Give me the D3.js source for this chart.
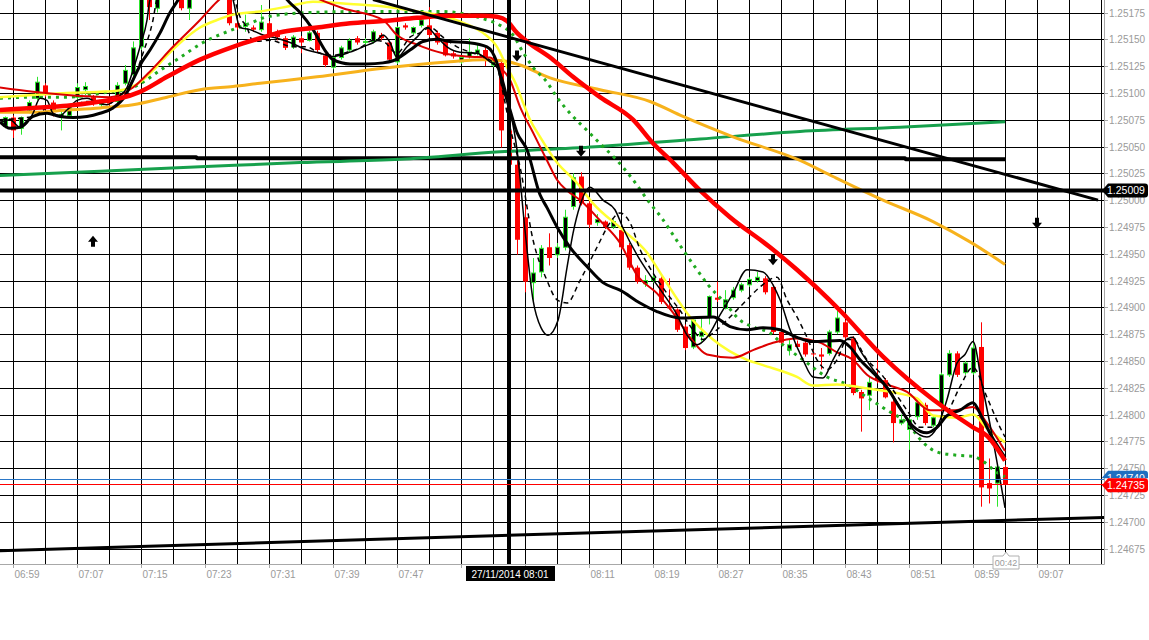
<!DOCTYPE html>
<html><head><meta charset="utf-8">
<script src="https://cdn.jsdelivr.net/npm/d3@7"></script>
<style>body{margin:0;background:#fff;}svg{display:block;}text{font-family:"Liberation Sans",Arial,sans-serif;}</style>
</head><body><svg id="c" width="1149" height="640"></svg>
<script>
// ---------- DATA ----------
// candle index 0 = 06:59, one candle per minute; first candle is 06:58 (index -1)
const firstIndex = -1;
// [open, high, low, close]
const candles = [
[1.25069,1.25078,1.25067,1.25077],[1.25077,1.25079,1.25058,1.25065],[1.25067,1.25078,1.25061,1.25077],[1.25084,1.25093,1.25081,1.25091],
[1.25095,1.25115,1.25093,1.25110],[1.25107,1.25109,1.25096,1.25098],[1.25091,1.25093,1.25078,1.25084],[1.25078,1.25084,1.25065,1.25080],
[1.25079,1.25089,1.25078,1.25087],[1.25096,1.25109,1.25093,1.25105],[1.25103,1.25110,1.25098,1.25106],[1.25096,1.25098,1.25088,1.25091],
[1.25089,1.25093,1.25087,1.25092],[1.25093,1.25095,1.25088,1.25090],[1.25092,1.25110,1.25087,1.25107],[1.25109,1.25126,1.25107,1.25121],
[1.25117,1.25148,1.25112,1.25142],[1.25143,1.25196,1.25140,1.25191],[1.25205,1.25210,1.25168,1.25180],[1.25179,1.25205,1.25175,1.25201],
[1.25201,1.25219,1.25196,1.25215],[1.25215,1.25233,1.25210,1.25229],[1.25224,1.25229,1.25177,1.25179],[1.25179,1.25210,1.25168,1.25205],
[1.25205,1.25229,1.25201,1.25224],[1.25224,1.25243,1.25219,1.25238],[1.25238,1.25247,1.25224,1.25229],[1.25229,1.25233,1.25210,1.25215],
[1.25215,1.25219,1.25163,1.25165],[1.25165,1.25167,1.25159,1.25161],[1.25162,1.25173,1.25157,1.25164],[1.25161,1.25163,1.25157,1.25159],
[1.25159,1.25182,1.25157,1.25166],[1.25165,1.25167,1.25152,1.25154],[1.25157,1.25159,1.25149,1.25152],[1.25151,1.25153,1.25140,1.25142],
[1.25143,1.25154,1.25141,1.25152],[1.25151,1.25153,1.25137,1.25147],[1.25149,1.25158,1.25148,1.25156],[1.25156,1.25158,1.25138,1.25140],
[1.25135,1.25137,1.25124,1.25126],[1.25124,1.25135,1.25122,1.25133],[1.25133,1.25144,1.25131,1.25142],[1.25140,1.25151,1.25138,1.25149],
[1.25151,1.25153,1.25145,1.25147],[1.25147,1.25151,1.25145,1.25148],[1.25148,1.25159,1.25146,1.25157],[1.25154,1.25156,1.25149,1.25151],
[1.25147,1.25148,1.25129,1.25131],[1.25129,1.25162,1.25127,1.25161],[1.25163,1.25165,1.25159,1.25161],[1.25156,1.25162,1.25154,1.25161],
[1.25163,1.25170,1.25161,1.25168],[1.25163,1.25180,1.25152,1.25154],[1.25156,1.25158,1.25145,1.25147],[1.25148,1.25149,1.25134,1.25135],
[1.25137,1.25139,1.25132,1.25134],[1.25129,1.25134,1.25127,1.25133],[1.25134,1.25151,1.25132,1.25138],[1.25137,1.25146,1.25135,1.25140],
[1.25140,1.25142,1.25125,1.25131],[1.25126,1.25131,1.25124,1.25129],[1.25128,1.25130,1.25049,1.25065],[1.25065,1.25070,1.25014,1.25033],
[1.25033,1.25037,1.24949,1.24963],[1.24984,1.24995,1.24914,1.24924],[1.24923,1.24946,1.24904,1.24932],[1.24933,1.24958,1.24928,1.24955],
[1.24956,1.24969,1.24939,1.24946],[1.24949,1.24960,1.24946,1.24956],[1.24956,1.24991,1.24953,1.24984],[1.24994,1.25025,1.24991,1.25021],
[1.25022,1.25026,1.24995,1.24997],[1.24997,1.25000,1.24974,1.24977],[1.24979,1.24987,1.24976,1.24982],[1.24980,1.24981,1.24973,1.24975],
[1.24975,1.24982,1.24973,1.24980],[1.24972,1.24974,1.24954,1.24956],[1.24958,1.24960,1.24935,1.24937],[1.24937,1.24939,1.24922,1.24924],
[1.24922,1.24930,1.24919,1.24925],[1.24925,1.24930,1.24923,1.24928],[1.24927,1.24929,1.24903,1.24905],[1.24901,1.24927,1.24898,1.24899],
[1.24898,1.24899,1.24877,1.24879],[1.24882,1.24884,1.24860,1.24862],[1.24863,1.24890,1.24861,1.24888],[1.24873,1.24890,1.24868,1.24877],
[1.24891,1.24911,1.24884,1.24910],[1.24909,1.24924,1.24905,1.24907],[1.24899,1.24916,1.24898,1.24907],[1.24909,1.24919,1.24907,1.24916],
[1.24916,1.24923,1.24914,1.24921],[1.24921,1.24928,1.24919,1.24926],[1.24925,1.24933,1.24923,1.24928],[1.24927,1.24929,1.24912,1.24914],
[1.24919,1.24921,1.24875,1.24877],[1.24877,1.24879,1.24865,1.24867],[1.24860,1.24870,1.24855,1.24865],[1.24866,1.24869,1.24861,1.24863],
[1.24867,1.24869,1.24854,1.24856],[1.24857,1.24860,1.24854,1.24856],[1.24856,1.24862,1.24842,1.24854],[1.24857,1.24879,1.24855,1.24877],
[1.24877,1.24899,1.24875,1.24890],[1.24886,1.24888,1.24870,1.24872],[1.24871,1.24873,1.24818,1.24820],[1.24821,1.24823,1.24784,1.24815],
[1.24818,1.24836,1.24804,1.24830],[1.24835,1.24851,1.24829,1.24832],[1.24832,1.24834,1.24815,1.24816],[1.24812,1.24814,1.24774,1.24792],
[1.24792,1.24800,1.24790,1.24795],[1.24786,1.24797,1.24767,1.24795],[1.24798,1.24814,1.24795,1.24811],[1.24809,1.24811,1.24790,1.24792],
[1.24790,1.24799,1.24788,1.24797],[1.24809,1.24839,1.24804,1.24837],[1.24837,1.24860,1.24835,1.24857],[1.24857,1.24859,1.24835,1.24837],
[1.24839,1.24850,1.24837,1.24848],[1.24839,1.24867,1.24837,1.24862],[1.24863,1.24886,1.24714,1.24732],[1.24736,1.24759,1.24717,1.24731],
[1.24736,1.24753,1.24714,1.24751],[1.24751,1.24753,1.24734,1.24735]
];

// indicator lines: [candle index, price]
const thickRed = [[-1.63,1.25084],[2.5,1.25086],[6.75,1.25088],[10.88,1.25092],[13.38,1.25095],[15.88,1.25101],[19.25,1.25115],[23.38,1.25131],[27.5,1.25143],[30.88,1.25151],[33.75,1.25157],[38,1.25161],[42.13,1.25165],[46.25,1.25167],[50.5,1.25170],[54.63,1.25172],[58.75,1.25172],[60.5,1.25171],[61.75,1.25167],[63,1.25156],[64.25,1.25148],[67.5,1.25131],[70,1.25115],[73.38,1.25096],[77.5,1.25075],[80,1.25053],[82.5,1.25035],[85.88,1.25009],[89.63,1.24984],[94.63,1.24956],[98,1.24935],[103.38,1.24897],[108.75,1.24854],[115,1.24814],[120,1.24788],[121.75,1.24780],[124,1.24757]];
const orangeMA = [[-1.63,1.25082],[2.5,1.25082],[6.75,1.25084],[10.88,1.25086],[15,1.25089],[19.25,1.25096],[23.38,1.25103],[27.5,1.25106],[30.88,1.25109],[38,1.25115],[46.25,1.25123],[54.63,1.25129],[58.75,1.25131],[61.25,1.25130],[63.38,1.25126],[67.13,1.25114],[73.38,1.25103],[79.63,1.25092],[83.75,1.25078],[90,1.25059],[98.38,1.25037],[102.5,1.25022],[108.75,1.25000],[115,1.24980],[119.63,1.24961],[124,1.24940]];
const greenLong = [[-1.63,1.25023],[10.88,1.25027],[23.38,1.25031],[35.88,1.25035],[48.38,1.25038],[60.88,1.25045],[73.38,1.25050],[85.88,1.25057],[98.38,1.25064],[110.88,1.25068],[124,1.25073]];
const blackFlat = [[-1.63,1.25040],[22.9,1.25040],[23,1.25039],[111.5,1.25039],[111.6,1.25038],[124,1.25038]];
const yellowMA = [[-1.63,1.25096],[2.5,1.25098],[6.75,1.25100],[10.88,1.25101],[13,1.25102],[14.63,1.25105],[15.88,1.25110],[17.5,1.25121],[19.25,1.25135],[21.25,1.25149],[23.38,1.25161],[25.5,1.25168],[27.5,1.25173],[30.88,1.25176],[34.63,1.25181],[37.5,1.25185],[42.13,1.25183],[47.13,1.25180],[50.5,1.25176],[53,1.25173],[56.75,1.25164],[58.75,1.25156],[60.5,1.25143],[61.75,1.25124],[63,1.25106],[63.75,1.25091],[64.63,1.25075],[65.88,1.25059],[68,1.25035],[70.5,1.25016],[72.5,1.24997],[76.25,1.24972],[79.25,1.24951],[81.25,1.24928],[84.63,1.24891],[87.5,1.24870],[91.75,1.24851],[93.75,1.24846],[98,1.24835],[100,1.24827],[103,1.24828],[106.25,1.24825],[110.5,1.24820],[113,1.24815],[115,1.24799],[118,1.24797],[120,1.24800],[121.75,1.24787],[124,1.24774]];
const thinRed = [[-1.63,1.25105],[2.5,1.25101],[6.75,1.25098],[12.13,1.25096],[15,1.25105],[17.13,1.25120],[20,1.25143],[23.38,1.25168],[25.5,1.25185],[28.38,1.25201],[33.38,1.25205],[38.38,1.25187],[41.25,1.25179],[46.25,1.25168],[48,1.25154],[50.5,1.25145],[53.75,1.25137],[56.75,1.25134],[59.63,1.25133],[60.88,1.25124],[62.13,1.25112],[63.38,1.25087],[65,1.25063],[66.75,1.25037],[68,1.25019],[69.25,1.25009],[70.88,1.25000],[73.38,1.24981],[75.88,1.24960],[78,1.24930],[80.5,1.24913],[82.5,1.24895],[84.63,1.24872],[86.75,1.24856],[90,1.24853],[92.5,1.24860],[95,1.24867],[98,1.24871],[100.88,1.24867],[103,1.24858],[105,1.24851],[106.75,1.24837],[109.25,1.24828],[111.75,1.24821],[114.63,1.24804],[117.5,1.24804],[120,1.24807],[121.75,1.24792],[124,1.24766]];
const greenDots = [[-1.63,1.25095],[2.5,1.25096],[6.75,1.25096],[12.13,1.25101],[14.25,1.25103],[16.25,1.25110],[18.38,1.25121],[20.88,1.25133],[23.75,1.25147],[26.75,1.25157],[29.63,1.25165],[31.75,1.25171],[37.13,1.25175],[44.25,1.25176],[53.38,1.25176],[58.38,1.25170],[60.88,1.25163],[62.5,1.25154],[63.75,1.25138],[65,1.25124],[66.75,1.25110],[68,1.25096],[69.63,1.25081],[71.75,1.25065],[73.75,1.25050],[75.5,1.25037],[77.5,1.25019],[79.63,1.24997],[81.13,1.24983],[82.38,1.24969],[83.63,1.24955],[85.5,1.24935],[86.88,1.24921],[89,1.24904],[90.88,1.24888],[92.75,1.24881],[94.63,1.24876],[96.25,1.24865],[98.75,1.24851],[101.75,1.24835],[104.25,1.24828],[106.75,1.24816],[109.25,1.24804],[111.75,1.24792],[113.75,1.24774],[115.5,1.24765],[118,1.24762],[120,1.24761],[121.13,1.24757],[123,1.24746],[124,1.24742]];
const thickBlack = [[-1.63,1.25073],[-0.38,1.25067],[0.88,1.25068],[2.5,1.25078],[4.25,1.25081],[5.88,1.25078],[7.5,1.25077],[9.25,1.25078],[10.88,1.25081],[12.5,1.25086],[14,1.25097],[15,1.25112],[16.13,1.25129],[17.13,1.25140],[18.38,1.25156],[19.63,1.25175],[20.5,1.25185],[23.38,1.25224],[29.63,1.25224],[33.38,1.25196],[34.25,1.25187],[35.88,1.25175],[37.5,1.25159],[39.25,1.25137],[40,1.25131],[42.13,1.25127],[44.25,1.25127],[46.25,1.25128],[47.5,1.25130],[49.63,1.25140],[51.25,1.25148],[53,1.25150],[54.63,1.25148],[56.75,1.25147],[59.25,1.25143],[60.5,1.25128],[61.25,1.25106],[62.13,1.25084],[63,1.25063],[64.25,1.25047],[65.88,1.25005],[66.75,1.24993],[68,1.24975],[69.63,1.24956],[71.75,1.24938],[73.75,1.24923],[75.88,1.24916],[78.38,1.24904],[80.5,1.24896],[83.38,1.24890],[87.5,1.24891],[89.63,1.24882],[91.75,1.24879],[93.75,1.24881],[95.88,1.24879],[98,1.24872],[100,1.24868],[103.38,1.24869],[104.63,1.24863],[105.88,1.24851],[107.5,1.24839],[109.25,1.24825],[110.88,1.24806],[112.5,1.24789],[114.25,1.24783],[115.5,1.24788],[116.75,1.24799],[118.38,1.24804],[120,1.24811],[121.13,1.24797],[122.38,1.24779],[124,1.24760]];
const thinBlack = [[-1.63,1.25072],[-0.38,1.25075],[0.88,1.25068],[1.75,1.25072],[2.5,1.25081],[3.38,1.25095],[4.25,1.25093],[5,1.25081],[5.88,1.25079],[6.75,1.25084],[8,1.25093],[9.25,1.25095],[10.5,1.25091],[11.75,1.25089],[13,1.25095],[14.25,1.25105],[15,1.25121],[15.88,1.25143],[16.75,1.25168],[17.13,1.25187],[22.13,1.25224],[27.13,1.25196],[27.5,1.25187],[28.38,1.25161],[29.63,1.25159],[31.25,1.25154],[33,1.25151],[34.63,1.25147],[36.75,1.25140],[38.38,1.25137],[40,1.25134],[42.13,1.25138],[43.75,1.25143],[45.5,1.25149],[46.25,1.25154],[47.13,1.25147],[48,1.25133],[49.25,1.25143],[50.5,1.25152],[51.75,1.25161],[53,1.25152],[54.25,1.25143],[55.88,1.25138],[58,1.25137],[59.63,1.25129],[60.5,1.25124],[61.25,1.25112],[62.13,1.25084],[63,1.25047],[64,1.24972],[65,1.24907],[66,1.24881],[66.88,1.24874],[68.13,1.24888],[69.25,1.24937],[70,1.24969],[70.88,1.24995],[72.13,1.25012],[73.75,1.25000],[75.25,1.24991],[76.25,1.24974],[78,1.24949],[79.63,1.24930],[81.25,1.24913],[83,1.24893],[84.25,1.24874],[85.5,1.24865],[86.75,1.24872],[88.38,1.24893],[90,1.24913],[91.75,1.24935],[93.75,1.24933],[95,1.24921],[95.88,1.24907],[97.13,1.24879],[98.75,1.24851],[100,1.24835],[101.25,1.24834],[102.5,1.24851],[103.75,1.24867],[105,1.24872],[105.88,1.24860],[107.5,1.24842],[109.25,1.24826],[110.88,1.24807],[112.5,1.24786],[114.25,1.24779],[115.5,1.24788],[116.75,1.24814],[118,1.24848],[119,1.24856],[120,1.24868],[121.13,1.24828],[122.38,1.24781],[124,1.24713]];
const dashBlack = [[-1.63,1.25075],[2.5,1.25078],[4.63,1.25087],[6.75,1.25087],[9.25,1.25092],[10.88,1.25091],[13.38,1.25098],[15,1.25112],[16.25,1.25137],[17.5,1.25168],[18,1.25187],[23.38,1.25224],[27.5,1.25191],[28.38,1.25171],[29.25,1.25161],[30,1.25148],[32.13,1.25149],[35,1.25143],[36.75,1.25143],[38,1.25138],[40,1.25135],[41.75,1.25138],[43.38,1.25142],[45,1.25149],[46.25,1.25148],[48,1.25137],[49.63,1.25152],[50.88,1.25156],[52.13,1.25161],[53.75,1.25152],[55.5,1.25143],[57.13,1.25138],[58.75,1.25134],[60.5,1.25124],[61.25,1.25100],[62.13,1.25068],[63.38,1.25031],[65,1.24963],[66.75,1.24925],[68,1.24907],[69.25,1.24904],[70.88,1.24925],[73,1.24956],[74.63,1.24979],[75.88,1.24988],[77.13,1.24979],[78.38,1.24954],[80,1.24932],[81.75,1.24913],[83.38,1.24897],[85,1.24879],[86.25,1.24870],[87.5,1.24876],[89.63,1.24891],[91.75,1.24907],[93.38,1.24919],[95.5,1.24928],[96.75,1.24907],[98,1.24891],[99.25,1.24872],[100.5,1.24851],[101.75,1.24842],[103,1.24851],[104.25,1.24870],[105,1.24870],[106.75,1.24851],[108.38,1.24839],[110,1.24823],[111.75,1.24804],[113.38,1.24788],[115,1.24788],[116.75,1.24801],[118.38,1.24826],[120,1.24844],[121.75,1.24816],[123.38,1.24788],[124,1.24779]];

const topTrend = [[45,1.25187],[135.63,1.25000]];
const bottomTrend = [[-1.63,1.24673],[136.38,1.24704]];
const levelPrice = 1.25009;
const verticalIndex = 62;            // 08:01
const bidPrice = 1.24735, askPrice = 1.24740;
const downArrows = [[63,1.25134],[71,1.25045],[95,1.24944],[128,1.24978]];
const upArrows = [[10,1.24962]];

const priceTicks = ["1.24675","1.24700","1.24725","1.24750","1.24775","1.24800","1.24825","1.24850","1.24875","1.24900","1.24925","1.24950","1.24975","1.25000","1.25025","1.25050","1.25075","1.25100","1.25125","1.25150","1.25175"];
const timeLabels = ["06:59","07:07","07:15","07:23","07:31","07:39","07:47","07:55","08:03","08:11","08:19","08:27","08:35","08:43","08:51","08:59","09:07"];
const timeLabelStep = 8;  // minutes between labels
const crossLabel = "27/11/2014 08:01";
const timerLabel = "00:42";

// ---------- DRAW ----------
const W = 1149, H = 640, plotW = 1104, plotH = 564;
const svg = d3.select("#c");
const x = d3.scaleLinear().domain([-1.625, 136.375]).range([0, plotW]);
const y = d3.scaleLinear().domain([1.24675, 1.25175]).range([548.5, 12.5]);

svg.append("rect").attr("width", W).attr("height", H).attr("fill", "#fff");
const defs = svg.append("defs");
defs.append("clipPath").attr("id", "clip")
  .append("rect").attr("width", plotW).attr("height", plotH);
const g = svg.append("g").attr("clip-path", "url(#clip)");

// grid
const gridXs = d3.range(0, 137, 4);
g.append("g").selectAll("line").data(gridXs).join("line")
  .attr("x1", d => Math.round(x(d)) + 0.5).attr("x2", d => Math.round(x(d)) + 0.5)
  .attr("y1", 0).attr("y2", plotH).attr("stroke", "#000").attr("stroke-width", 1);
g.append("g").selectAll("line").data(priceTicks.map(Number)).join("line")
  .attr("y1", d => Math.round(y(d)) + 0.5).attr("y2", d => Math.round(y(d)) + 0.5)
  .attr("x1", 0).attr("x2", plotW).attr("stroke", "#000").attr("stroke-width", 1);

// candles
const cg = g.append("g");
const cdata = candles.map((c, k) => ({i: firstIndex + k, o: c[0], h: c[1], l: c[2], c: c[3]}));
const bullC = "#2ee62e", bearC = "#ff0000";
cg.selectAll("line").data(cdata).join("line")
  .attr("x1", d => Math.round(x(d.i)) + 0.5).attr("x2", d => Math.round(x(d.i)) + 0.5)
  .attr("y1", d => y(d.h)).attr("y2", d => y(d.l))
  .attr("stroke", d => d.c >= d.o ? bullC : bearC).attr("stroke-width", 1);
cg.selectAll("rect").data(cdata).join("rect")
  .attr("x", d => d.c >= d.o ? Math.round(x(d.i)) - 1.5 : Math.round(x(d.i)) - 2)
  .attr("width", d => d.c >= d.o ? 4 : 5)
  .attr("y", d => y(Math.max(d.o, d.c)))
  .attr("height", d => Math.max(1, Math.abs(y(d.o) - y(d.c))))
  .attr("fill", d => d.c >= d.o ? "#000" : bearC)
  .attr("stroke", d => d.c >= d.o ? bullC : "none")
  .attr("stroke-width", 1);

// indicator lines
const smooth = d3.line().x(d => x(d[0])).y(d => y(d[1])).curve(d3.curveMonotoneX);
const straight = d3.line().x(d => x(d[0])).y(d => y(d[1]));
function draw(data, color, width, gen, dash) {
  const p = g.append("path").datum(data).attr("d", gen).attr("fill", "none")
    .attr("stroke", color).attr("stroke-width", width).attr("stroke-linejoin", "round");
  if (dash) p.attr("stroke-dasharray", dash);
  return p;
}
draw(blackFlat, "#000", 4, straight);
draw(greenLong, "#16a04c", 3, smooth);
draw(orangeMA, "#f7b21c", 3, smooth);
draw(greenDots, "#1faa1f", 3, smooth, "3 5");
draw(yellowMA, "#ffff30", 2.5, smooth);
draw(thinRed, "#dd0000", 2, smooth);
draw(thickBlack, "#000", 3, smooth);
draw(dashBlack, "#000", 1.5, smooth, "5 4");
draw(thinBlack, "#000", 1.5, smooth);
draw(thickRed, "#ff0000", 4.5, smooth);

// trend lines, level, vertical
draw(topTrend, "#000", 3, straight);
draw(bottomTrend, "#000", 3, straight);
g.append("line").attr("x1", 0).attr("x2", plotW).attr("y1", y(levelPrice)).attr("y2", y(levelPrice))
  .attr("stroke", "#000").attr("stroke-width", 4);
g.append("line").attr("x1", x(verticalIndex)).attr("x2", x(verticalIndex)).attr("y1", 0).attr("y2", plotH)
  .attr("stroke", "#000").attr("stroke-width", 4);
g.append("line").attr("x1", 0).attr("x2", plotW).attr("y1", Math.round(y(askPrice)) + 0.5).attr("y2", Math.round(y(askPrice)) + 0.5)
  .attr("stroke", "#2b78c8").attr("stroke-width", 1);
g.append("line").attr("x1", 0).attr("x2", plotW).attr("y1", Math.round(y(bidPrice)) + 0.5).attr("y2", Math.round(y(bidPrice)) + 0.5)
  .attr("stroke", "#ff0000").attr("stroke-width", 1);

// arrows
function arrowPath(cx, cy, down) {
  const s = down ? 1 : -1;
  return `M${cx-2},${cy-6*s} L${cx+2},${cy-6*s} L${cx+2},${cy-1*s} L${cx+5},${cy-1*s} L${cx},${cy+5*s} L${cx-5},${cy-1*s} L${cx-2},${cy-1*s} Z`;
}
g.selectAll("path.da").data(downArrows).join("path").attr("class", "da")
  .attr("d", d => arrowPath(x(d[0]), y(d[1]), true)).attr("fill", "#000");
g.selectAll("path.ua").data(upArrows).join("path").attr("class", "ua")
  .attr("d", d => arrowPath(x(d[0]), y(d[1]), false)).attr("fill", "#000");

// frame
svg.append("line").attr("x1", plotW + 0.5).attr("x2", plotW + 0.5).attr("y1", 0).attr("y2", plotH + 0.5)
  .attr("stroke", "#a8a8a8").attr("stroke-width", 1);
svg.append("line").attr("x1", 0).attr("x2", plotW + 0.5).attr("y1", plotH + 0.5).attr("y2", plotH + 0.5)
  .attr("stroke", "#a8a8a8").attr("stroke-width", 1);

// right axis labels
const ax = svg.append("g");
priceTicks.forEach(t => {
  const yy = Math.round(y(+t)) + 0.5;
  ax.append("line").attr("x1", plotW).attr("x2", plotW + 4).attr("y1", yy).attr("y2", yy).attr("stroke", "#a8a8a8");
  ax.append("text").attr("x", plotW + 5).attr("y", yy + 3.5).attr("font-size", 10).attr("fill", "#9a9a9a").text(t);
});

// crosshair time label box extent
const cx0 = x(verticalIndex);
const boxL = cx0 - 43, boxR = cx0 + 46;

// bottom axis labels (the ones under the crosshair time box are hidden by it)
timeLabels.forEach((t, k) => {
  const xx = Math.round(x(k * timeLabelStep)) + 0.5;
  ax.append("line").attr("x1", xx).attr("x2", xx).attr("y1", plotH).attr("y2", plotH + 4).attr("stroke", "#a8a8a8");
  if (xx + 27 > boxL && xx + 1 < boxR) return;
  ax.append("text").attr("x", xx + 1).attr("y", plotH + 14).attr("font-size", 10).attr("fill", "#9a9a9a").text(t);
});

// price tags on right
function tag(price, fill, label, dy, clipId) {
  const yy = y(price) + (dy || 0);
  const gg = svg.append("g");
  if (clipId) gg.attr("clip-path", `url(#${clipId})`);
  gg.append("path").attr("d", `M${plotW-2},${yy} L${plotW+4},${yy-7} L${plotW+41},${yy-7} Q${plotW+44},${yy-7} ${plotW+44},${yy-4} L${plotW+44},${yy+4} Q${plotW+44},${yy+7} ${plotW+41},${yy+7} L${plotW+4},${yy+7} Z`)
    .attr("fill", fill);
  gg.append("text").attr("x", plotW + 3).attr("y", yy + 4).attr("font-size", 10.5).attr("fill", "#fff").text(label);
}
tag(levelPrice, "#000", levelPrice.toFixed(5));
// ask tag is mostly hidden behind the bid tag: show only its upper part
const bidTop = y(bidPrice) + 1 - 7;
defs.append("clipPath").attr("id", "askclip").append("rect")
  .attr("x", plotW - 4).attr("y", 0).attr("width", 60).attr("height", bidTop);
tag(askPrice, "#1e6fc0", askPrice.toFixed(5), -1, "askclip");
tag(bidPrice, "#ff0000", bidPrice.toFixed(5), 1);

// crosshair time label
svg.append("rect").attr("x", boxL).attr("y", plotH + 2).attr("width", boxR - boxL).attr("height", 15).attr("fill", "#000");
svg.append("text").attr("x", cx0 + 1).attr("y", plotH + 13.5).attr("text-anchor", "middle").attr("font-size", 10)
  .attr("fill", "#fff").text(crossLabel);

// candle timer label
const tx = x(candles.length - 1 + firstIndex) + 1;
svg.append("path").attr("d", `M${tx-13},${plotH-8} L${tx-3},${plotH-8} L${tx},${plotH-12} L${tx+3},${plotH-8} L${tx+13},${plotH-8} L${tx+13},${plotH+5} L${tx-13},${plotH+5} Z`)
  .attr("fill", "#fff").attr("stroke", "#b0b0b0").attr("stroke-width", 1);
svg.append("text").attr("x", tx).attr("y", plotH + 2).attr("text-anchor", "middle").attr("font-size", 9)
  .attr("fill", "#9a9a9a").text(timerLabel);
</script></body></html>
